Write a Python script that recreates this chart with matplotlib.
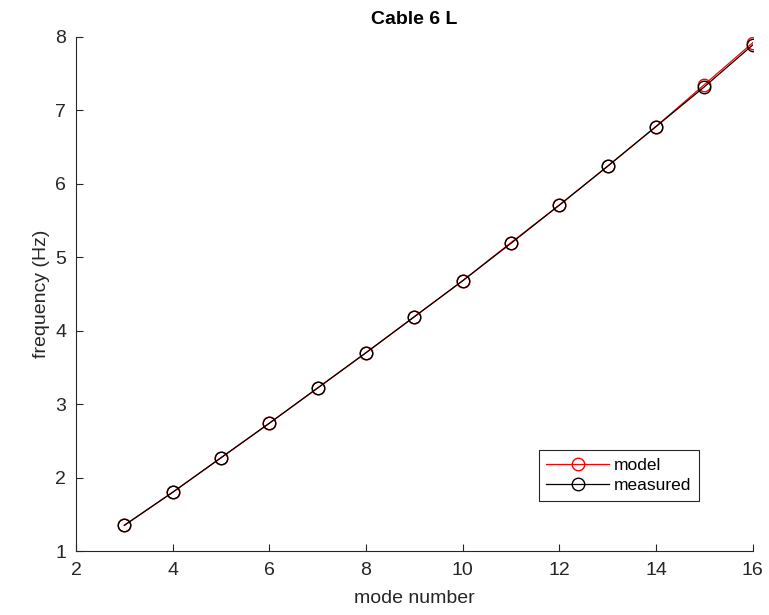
import matplotlib.pyplot as plt
import numpy as np

plt.rcParams.update({'font.family': ['Liberation Sans', 'DejaVu Sans']})

mode = [3, 4, 5, 6, 7, 8, 9, 10, 11, 12, 13, 14, 15, 16]
f_model = [1.35, 1.80, 2.27, 2.74, 3.22, 3.70, 4.19, 4.68, 5.20, 5.71, 6.24, 6.78, 7.35, 7.92]
f_measured = [1.35, 1.80, 2.27, 2.74, 3.22, 3.70, 4.19, 4.68, 5.19, 5.71, 6.24, 6.78, 7.32, 7.89]

ink = '#262626'
fig = plt.figure(figsize=(7.69, 6.15), dpi=100)
ax = fig.add_axes([0.0988, 0.104, 0.880, 0.836])

ax.plot(mode, f_model, '-o', color='red', mfc='none', ms=9, lw=0.9, mew=1, label='model')
ax.plot(mode, f_measured, '-o', color='black', mfc='none', ms=9, lw=0.9, mew=1, label='measured')

ax.set_xlim(2, 16)
ax.set_ylim(1, 8)
ax.set_xticks(np.arange(2, 17, 2))
ax.set_yticks(np.arange(1, 9, 1))
for side in ('top', 'right'):
    ax.spines[side].set_visible(False)
for side in ('left', 'bottom'):
    ax.spines[side].set_color(ink)
ax.tick_params(direction='in', length=5, colors=ink, labelsize=14)
ax.tick_params(axis='x', pad=8)
ax.tick_params(axis='y', pad=7)

ax.set_xlabel('mode number', fontsize=14, color=ink, labelpad=8)
ax.set_ylabel('frequency (Hz)', fontsize=14, color=ink, labelpad=4)
ax.set_title('Cable 6 L', fontsize=14, fontweight='bold', color='black', pad=9)

leg = ax.legend(loc='lower right', bbox_to_anchor=(0.934, 0.08), fontsize=12.5,
                fancybox=False, framealpha=1, edgecolor=ink, handlelength=3.6,
                borderpad=0.45, labelspacing=0.3, handletextpad=0.3)
leg.get_frame().set_linewidth(0.8)

plt.savefig('out.png', dpi=100)
